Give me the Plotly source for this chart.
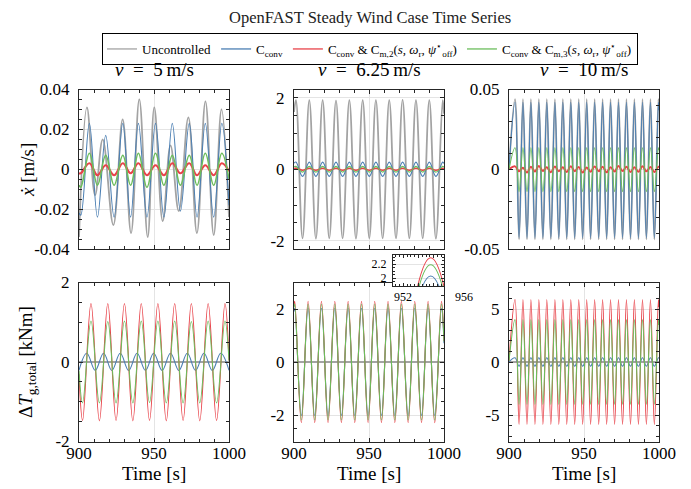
import plotly.graph_objects as go

# ======================= DATA =======================
x_ticks = [900, 950, 1000]
x_ticklabels = ["900", "950", "1000"]

series_names = [
    "Uncontrolled",
    "C<sub>conv</sub>",
    "C<sub>conv</sub> &amp; C<sub>m,2</sub>(<i>s</i>, <i>ω</i><sub>r</sub>, <i>ψ</i><sup>⋆</sup><sub>off</sub>)",
    "C<sub>conv</sub> &amp; C<sub>m,3</sub>(<i>s</i>, <i>ω</i><sub>r</sub>, <i>ψ</i><sup>⋆</sup><sub>off</sub>)",
]
wind_titles = ["<i>v</i>\u2002=\u20025\u2009m/s", "<i>v</i>\u2002=\u20026.25\u2009m/s", "<i>v</i>\u2002=\u200210\u2009m/s"]

# ---- v = 5 m/s, platform velocity [m/s]
t_tl_unc = [900.0, 905.3, 910.7, 915.8, 922.9, 929.1, 934.7, 940.2, 945.8, 950.2,
            955.8, 961.0, 966.5, 972.9, 978.6, 984.3, 989.8, 995.0, 1000.0]
x_tl_unc = [-0.034, 0.031, -0.013, 0.015, -0.028, 0.025, -0.032, 0.035, -0.034, 0.031,
            -0.026, 0.012, -0.021, 0.026, -0.032, 0.034, -0.033, 0.030, -0.024]
t_tl = [900.0, 901.2, 906.9, 912.3, 917.8, 923.4, 929.2, 934.4, 939.6, 945.3,
        951.0, 956.6, 962.2, 967.6, 973.5, 978.7, 984.2, 989.8, 995.2, 1000.0]
x_tl_conv = [-0.022, -0.023, 0.023, -0.024, 0.017, -0.024, 0.023, -0.024, 0.023, -0.024,
             0.023, -0.024, 0.023, -0.021, 0.023, -0.024, 0.023, -0.024, 0.023, -0.018]
x_tl_m2 = [-0.002, -0.002, 0.003, -0.003, 0.002, -0.003, 0.003, -0.002, 0.003, -0.003,
           0.002, -0.003, 0.003, -0.002, 0.003, -0.003, 0.002, -0.003, 0.003, -0.001]
x_tl_m3 = [-0.008, -0.009, 0.008, -0.008, 0.007, -0.008, 0.007, -0.008, 0.008, -0.009,
           0.008, -0.008, 0.007, -0.008, 0.007, -0.008, 0.008, -0.008, 0.008, -0.005]

# ---- v = 6.25 m/s, platform velocity [m/s]
t_tm = [900.0, 901.3, 905.7, 910.2, 914.6, 919.1, 923.5, 928.0, 932.4, 936.9, 941.3, 945.8,
        950.2, 954.6, 959.1, 963.5, 968.0, 972.4, 976.9, 981.3, 985.8, 990.2, 994.6, 999.1, 1000.0]
x_tm_unc = [1.60, 1.93, -1.93, 1.93, -1.94, 1.93, -1.93, 1.92, -1.93, 1.93, -1.94, 1.93,
            -1.93, 1.93, -1.93, 1.93, -1.93, 1.94, -1.93, 1.93, -1.93, 1.93, -1.94, 1.93, 1.55]
x_tm_conv = [0.17, 0.20, -0.20, 0.20, -0.20, 0.20, -0.20, 0.20, -0.20, 0.20, -0.20, 0.20,
             -0.20, 0.20, -0.20, 0.20, -0.20, 0.20, -0.20, 0.20, -0.20, 0.20, -0.20, 0.20, 0.16]
x_tm_m2 = [0.02, 0.03, -0.03, 0.03, -0.03, 0.03, -0.03, 0.03, -0.03, 0.03, -0.03, 0.03,
           -0.03, 0.03, -0.03, 0.03, -0.03, 0.03, -0.03, 0.03, -0.03, 0.03, -0.03, 0.03, 0.02]
x_tm_m3 = [0.07, 0.08, -0.08, 0.08, -0.08, 0.08, -0.08, 0.08, -0.08, 0.08, -0.08, 0.08,
           -0.08, 0.08, -0.08, 0.08, -0.08, 0.08, -0.08, 0.08, -0.08, 0.08, -0.08, 0.08, 0.06]

# ---- v = 10 m/s (shared time grid of the top-right and bottom-right panels)
t_r = [900.0, 904.0, 906.7, 909.3, 912.0, 914.6, 917.3, 919.9, 922.6, 925.2, 927.9, 930.6, 933.2,
       935.9, 938.5, 941.2, 943.8, 946.5, 949.1, 951.8, 954.4, 957.1, 959.8, 962.4, 965.1, 967.7,
       970.4, 973.0, 975.7, 978.3, 981.0, 983.6, 986.3, 989.0, 991.6, 994.3, 996.9, 999.6, 1000.0]
x_tr_unc = [0.0,
            0.044, -0.044, 0.044, -0.044, 0.044, -0.044, 0.044, -0.044, 0.044, -0.044, 0.044, -0.044,
            0.044, -0.044, 0.044, -0.044, 0.044, -0.044, 0.044, -0.044, 0.044, -0.044, 0.044, -0.044,
            0.044, -0.044, 0.044, -0.044, 0.044, -0.044, 0.044, -0.044, 0.044, -0.044, 0.044, -0.044,
            0.044, 0.039]
x_tr_conv = [0.0,
             0.042, -0.043, 0.042, -0.043, 0.042, -0.043, 0.042, -0.043, 0.042, -0.043, 0.042, -0.043,
             0.042, -0.043, 0.042, -0.043, 0.042, -0.043, 0.042, -0.043, 0.042, -0.043, 0.042, -0.043,
             0.042, -0.043, 0.042, -0.043, 0.042, -0.043, 0.042, -0.043, 0.042, -0.043, 0.042, -0.043,
             0.042, 0.037]
x_tr_m2 = [0.0,
           0.0018, -0.0012, 0.0010, -0.0020, 0.0016, -0.0014, 0.0020, -0.0011, 0.0013, -0.0019, 0.0017, -0.0013,
           0.0012, -0.0018, 0.0019, -0.0012, 0.0014, -0.0020, 0.0011, -0.0015, 0.0018, -0.0012, 0.0016, -0.0019,
           0.0013, -0.0014, 0.0020, -0.0011, 0.0015, -0.0018, 0.0012, -0.0016, 0.0019, -0.0013, 0.0014, -0.0017,
           0.0016, 0.0010]
x_tr_m3 = [0.0,
           0.0135, -0.014, 0.0135, -0.014, 0.0135, -0.014, 0.0135, -0.014, 0.0135, -0.014, 0.0135, -0.014,
           0.0135, -0.014, 0.0135, -0.014, 0.0135, -0.014, 0.0135, -0.014, 0.0135, -0.014, 0.0135, -0.014,
           0.0135, -0.014, 0.0135, -0.014, 0.0135, -0.014, 0.0135, -0.014, 0.0135, -0.014, 0.0135, -0.014,
           0.0135, 0.012]

# ---- generator torque change [kNm]
t_ends = [900.0, 1000.0]
dT_unc = [0.0, 0.0]

t_bl = [900.0, 902.4, 908.0, 913.6, 919.2, 924.7, 930.3, 935.9, 941.5, 947.0,
        952.6, 958.2, 963.8, 969.4, 974.9, 980.5, 986.1, 991.7, 997.3, 1000.0]
dT_bl_m2 = [-0.31, -1.47, 1.47, -1.48, 1.47, -1.47, 1.47, -1.48, 1.47, -1.47,
            1.47, -1.48, 1.47, -1.47, 1.47, -1.48, 1.47, -1.47, 1.47, 0.04]
dT_bl_m3 = [-0.22, -1.03, 1.03, -1.03, 1.02, -1.03, 1.03, -1.03, 1.03, -1.02,
            1.03, -1.03, 1.03, -1.03, 1.02, -1.03, 1.03, -1.03, 1.03, 0.03]
t_bl_conv = [900.0, 905.2, 910.8, 916.4, 921.9, 927.5, 933.1, 938.7, 944.3, 949.8,
             955.4, 961.0, 966.6, 972.2, 977.7, 983.3, 988.9, 994.5, 1000.0]
dT_bl_conv = [-0.21, 0.22, -0.21, 0.22, -0.21, 0.22, -0.21, 0.22, -0.21, 0.22,
              -0.21, 0.22, -0.21, 0.22, -0.21, 0.22, -0.21, 0.22, -0.21]

t_bm = [900.0, 900.5, 904.9, 909.4, 913.8, 918.3, 922.7, 927.2, 931.6, 936.1, 940.5, 945.0,
        949.4, 953.8, 958.3, 962.7, 967.2, 971.6, 976.1, 980.5, 985.0, 989.4, 993.8, 998.3, 1000.0]
dT_bm_conv = [1.91, 2.03, -2.03, 2.03, -2.03, 2.03, -2.03, 2.03, -2.03, 2.03, -2.03, 2.03,
              -2.03, 2.03, -2.03, 2.03, -2.03, 2.03, -2.03, 2.03, -2.03, 2.03, -2.03, 2.03, 0.71]
dT_bm_m2 = [2.15, 2.29, -2.29, 2.29, -2.29, 2.29, -2.29, 2.29, -2.29, 2.29, -2.29, 2.29,
            -2.29, 2.29, -2.29, 2.29, -2.29, 2.29, -2.29, 2.29, -2.29, 2.29, -2.29, 2.29, 0.80]
dT_bm_m3 = [2.06, 2.19, -2.19, 2.19, -2.19, 2.19, -2.19, 2.19, -2.19, 2.19, -2.19, 2.19,
            -2.19, 2.19, -2.19, 2.19, -2.19, 2.19, -2.19, 2.19, -2.19, 2.19, -2.19, 2.19, 0.77]

dT_br_conv = [0.0,
              0.40, -0.40, 0.40, -0.40, 0.40, -0.40, 0.40, -0.40, 0.40, -0.40, 0.40, -0.40,
              0.40, -0.40, 0.40, -0.40, 0.40, -0.40, 0.40, -0.40, 0.40, -0.40, 0.40, -0.40,
              0.40, -0.40, 0.40, -0.40, 0.40, -0.40, 0.40, -0.40, 0.40, -0.40, 0.40, -0.40,
              0.40, 0.35]
dT_br_m2 = [0.1,
            5.9, -5.9, 5.9, -5.9, 5.9, -5.9, 5.9, -5.9, 5.9, -5.9, 5.9, -5.9,
            5.9, -5.9, 5.9, -5.9, 5.9, -5.9, 5.9, -5.9, 5.9, -5.9, 5.9, -5.9,
            5.9, -5.9, 5.9, -5.9, 5.9, -5.9, 5.9, -5.9, 5.9, -5.9, 5.9, -5.9,
            5.9, 5.2]
dT_br_m3 = [0.1,
            4.0, -4.0, 4.0, -4.0, 4.0, -4.0, 4.0, -4.0, 4.0, -4.0, 4.0, -4.0,
            4.0, -4.0, 4.0, -4.0, 4.0, -4.0, 4.0, -4.0, 4.0, -4.0, 4.0, -4.0,
            4.0, -4.0, 4.0, -4.0, 4.0, -4.0, 4.0, -4.0, 4.0, -4.0, 4.0, -4.0,
            4.0, 3.5]

# y-axis ticks per panel
y_tl_ticks, y_tl_labels = [-0.04, -0.02, 0, 0.02, 0.04], ["-0.04", "-0.02", "0", "0.02", "0.04"]
y_tm_ticks, y_tm_labels = [-2, 0, 2], ["-2", "0", "2"]
y_tr_ticks, y_tr_labels = [-0.05, 0, 0.05], ["-0.05", "0", "0.05"]
y_bl_ticks, y_bl_labels = [-2, 0, 2], ["-2", "0", "2"]
y_bm_ticks, y_bm_labels = [-2, 0, 2], ["-2", "0", "2"]
y_br_ticks, y_br_labels = [-5, 0, 5], ["-5", "0", "5"]
inset_y_ticks, inset_y_labels = [2.0, 2.2], ["2", "2.2"]
inset_x_labels = [952, 956]

# ======================= STYLE =======================
FONT = "Liberation Serif"
COLORS = ["#a3a3a3", "#4b7fb3", "#e8434a", "#6cbd5c"]
WIDTHS = [1.8, 1.1, 1.1, 1.1]
AXC = "#262626"
GRID = "#e4e4e4"
W, H = 691, 489
OFF = 8  # the page places the figure 8 px from the window's top-left corner


def px_x(p):
    return (p - OFF) / W


def px_y(p):
    return 1 - (p - OFF) / H


col_x = [(79, 229), (294, 444), (509, 659)]
row_y = [(89.5, 249), (282.5, 441.5)]
inset_x_dom = (393, 444)
inset_x_rng = [951.33, 954.67]

fig = go.Figure()


def add(t, y, k, ax, width=None):
    fig.add_trace(go.Scatter(
        x=t, y=y, mode="lines", name=series_names[k], legendgroup=str(k), showlegend=False,
        line=dict(color=COLORS[k], width=width if width else WIDTHS[k], shape="spline", smoothing=1.1),
        xaxis="x" + ax, yaxis="y" + ax, hoverinfo="skip"))


# legend entries (one per controller)
for k in range(4):
    fig.add_trace(go.Scatter(x=[None], y=[None], mode="lines", name=series_names[k], legendgroup=str(k),
                             showlegend=True, line=dict(color=COLORS[k], width=1.3)))

# top row
add(t_tl_unc, x_tl_unc, 0, "")
add(t_tl, x_tl_conv, 1, "")
add(t_tl, x_tl_m2, 2, "", 2.2)
add(t_tl, x_tl_m3, 3, "", 1.6)

add(t_tm, x_tm_unc, 0, "2")
add(t_tm, x_tm_conv, 1, "2")
add(t_tm, x_tm_m2, 2, "2", 1.6)
add(t_tm, x_tm_m3, 3, "2")

add(t_r, x_tr_unc, 0, "3")
add(t_r, x_tr_conv, 1, "3")
add(t_r, x_tr_m2, 2, "3", 2.0)
add(t_r, x_tr_m3, 3, "3")

# bottom row
add(t_ends, dT_unc, 0, "4")
add(t_bl_conv, dT_bl_conv, 1, "4")
add(t_bl, dT_bl_m2, 2, "4")
add(t_bl, dT_bl_m3, 3, "4")

add(t_ends, dT_unc, 0, "5")
add(t_bm, dT_bm_conv, 1, "5")
add(t_bm, dT_bm_m2, 2, "5")
add(t_bm, dT_bm_m3, 3, "5")

add(t_ends, dT_unc, 0, "6")
add(t_r, dT_br_conv, 1, "6")
add(t_r, dT_br_m2, 2, "6")
add(t_r, dT_br_m3, 3, "6")

# inset (zoom on v = 6.25 m/s torque peak)
add(t_bm, dT_bm_conv, 1, "7")
add(t_bm, dT_bm_m2, 2, "7")
add(t_bm, dT_bm_m3, 3, "7")

tickfont = dict(family=FONT, size=17, color="#000")


def xaxis(dom, anchor, labels):
    return dict(domain=[px_x(dom[0]), px_x(dom[1])], anchor=anchor, range=[900, 1000], automargin=False,
                tickmode="array", tickvals=x_ticks, ticktext=x_ticklabels, showticklabels=labels,
                ticks="inside", ticklen=4, tickcolor=AXC, tickwidth=1,
                showline=True, linecolor=AXC, linewidth=1, mirror="allticks",
                showgrid=True, gridcolor=GRID, gridwidth=1, zeroline=False,
                minor=dict(ticks="inside", ticklen=3, tickcolor=AXC, tickmode="linear", tick0=900, dtick=10,
                           showgrid=False),
                tickfont=tickfont, ticklabelstandoff=-4, fixedrange=True)


def yaxis(dom, anchor, rng, tv, tt, mdt):
    return dict(domain=[px_y(dom[1]), px_y(dom[0])], anchor=anchor, range=rng, automargin=False,
                tickmode="array", tickvals=tv, ticktext=tt,
                ticks="inside", ticklen=4, tickcolor=AXC, tickwidth=1,
                showline=True, linecolor=AXC, linewidth=1, mirror="allticks",
                showgrid=True, gridcolor=GRID, gridwidth=1, zeroline=False,
                minor=dict(ticks="inside", ticklen=3, tickcolor=AXC, tickmode="linear", tick0=0, dtick=mdt,
                           showgrid=False),
                tickfont=tickfont, ticklabelstandoff=5, fixedrange=True)


layout = dict(
    template="none",
    width=W, height=H, autosize=False, margin=dict(l=0, r=0, t=0, b=0, autoexpand=False),
    paper_bgcolor="white", plot_bgcolor="white",
    font=dict(family=FONT, color="#000"),
    showlegend=True,
    legend=dict(orientation="h", x=px_x(370), xanchor="center", y=px_y(33), yanchor="top",
                bordercolor="#000", borderwidth=1, bgcolor="white",
                font=dict(family=FONT, size=13, color="#000"), itemwidth=30, tracegroupgap=0),
)
layout["xaxis"] = xaxis(col_x[0], "y", False)
layout["xaxis2"] = xaxis(col_x[1], "y2", False)
layout["xaxis3"] = xaxis(col_x[2], "y3", False)
layout["xaxis4"] = xaxis(col_x[0], "y4", True)
layout["xaxis5"] = xaxis(col_x[1], "y5", True)
layout["xaxis6"] = xaxis(col_x[2], "y6", True)
layout["yaxis"] = yaxis(row_y[0], "x", [-0.04, 0.04], y_tl_ticks, y_tl_labels, 0.005)
layout["yaxis2"] = yaxis(row_y[0], "x2", [-2.23, 2.23], y_tm_ticks, y_tm_labels, 0.5)
layout["yaxis3"] = yaxis(row_y[0], "x3", [-0.05, 0.05], y_tr_ticks, y_tr_labels, 0.01)
layout["yaxis4"] = yaxis(row_y[1], "x4", [-2, 2], y_bl_ticks, y_bl_labels, 0.5)
layout["yaxis5"] = yaxis(row_y[1], "x5", [-3, 3], y_bm_ticks, y_bm_labels, 0.5)
layout["yaxis6"] = yaxis(row_y[1], "x6", [-7.5, 7.5], y_br_ticks, y_br_labels, 1)

# inset axes
layout["xaxis7"] = dict(domain=[px_x(inset_x_dom[0]), px_x(inset_x_dom[1])], anchor="y7", range=inset_x_rng,
                        automargin=False, showticklabels=False, ticks="inside", ticklen=3, tickcolor=AXC,
                        tickmode="linear", tick0=952, dtick=1,
                        showline=True, linecolor=AXC, linewidth=1, mirror="allticks",
                        showgrid=False, zeroline=False, fixedrange=True,
                        minor=dict(ticks="inside", ticklen=2, tickcolor=AXC, dtick=0.25, showgrid=False))
layout["yaxis7"] = dict(domain=[px_y(286), px_y(255)], anchor="x7", range=[1.886, 2.33], automargin=False,
                        tickmode="array", tickvals=inset_y_ticks, ticktext=inset_y_labels,
                        ticks="inside", ticklen=3, tickcolor=AXC,
                        showline=True, linecolor=AXC, linewidth=1, mirror="allticks",
                        showgrid=True, gridcolor=GRID, zeroline=False, fixedrange=True,
                        tickfont=dict(family=FONT, size=12, color="#000"), ticklabelstandoff=3,
                        minor=dict(ticks="inside", ticklen=2, tickcolor=AXC, tickmode="linear", tick0=0,
                                   dtick=0.05, showgrid=False))

ann = []
ann.append(dict(text="OpenFAST Steady Wind Case Time Series", x=px_x(370), y=px_y(18),
                xref="paper", yref="paper", showarrow=False, xanchor="center", yanchor="middle",
                font=dict(family=FONT, size=16.5, color="#222")))
for (c0, c1), txt in zip(col_x, wind_titles):
    ann.append(dict(text=txt, x=px_x((c0 + c1) / 2), y=px_y(69), xref="paper", yref="paper",
                    showarrow=False, xanchor="center", yanchor="middle",
                    font=dict(family=FONT, size=19, color="#000")))
    ann.append(dict(text="Time [s]", x=px_x((c0 + c1) / 2), y=px_y(473), xref="paper", yref="paper",
                    showarrow=False, xanchor="center", yanchor="middle",
                    font=dict(family=FONT, size=19, color="#000")))
ann.append(dict(text="<i>ẋ</i> [m/s]", x=px_x(27), y=px_y(170), xref="paper", yref="paper",
                showarrow=False, textangle=-90, xanchor="center", yanchor="middle",
                font=dict(family=FONT, size=19, color="#000")))
ann.append(dict(text="Δ<i>T</i><sub>g,total</sub> [kNm]", x=px_x(27), y=px_y(362), xref="paper", yref="paper",
                showarrow=False, textangle=-90, xanchor="center", yanchor="middle",
                font=dict(family=FONT, size=19, color="#000")))
# inset x tick labels (placed with the inset's own linear time scale)
for v in inset_x_labels:
    frac = (v - inset_x_rng[0]) / (inset_x_rng[1] - inset_x_rng[0])
    xp = inset_x_dom[0] + frac * (inset_x_dom[1] - inset_x_dom[0])
    ann.append(dict(text=str(v), x=px_x(xp), y=px_y(297), xref="paper", yref="paper", showarrow=False,
                    xanchor="center", yanchor="middle", font=dict(family=FONT, size=12, color="#000")))
layout["annotations"] = ann

fig.update_layout(**layout)
fig.write_html("out.html")
